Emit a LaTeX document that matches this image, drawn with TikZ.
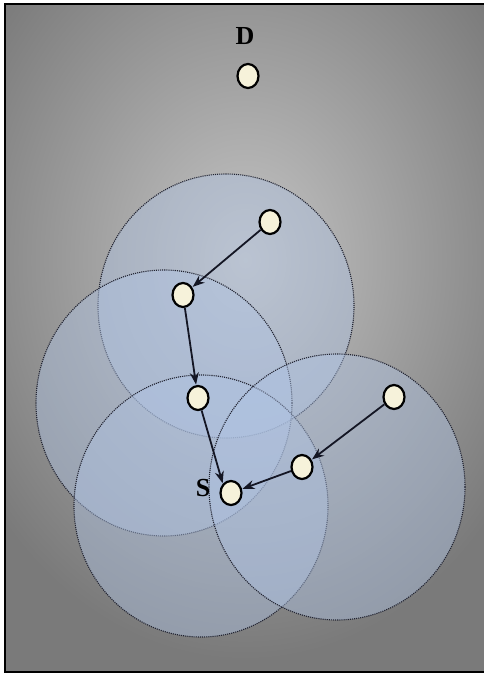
\documentclass[tikz,border=0pt]{standalone}
\usepackage{fontspec}
\setmainfont{Liberation Serif}
\usetikzlibrary{shapes.geometric,arrows.meta}
\definecolor{bgdark}{RGB}{122,122,122}
\definecolor{bglight}{RGB}{196,196,196}
\definecolor{rangefill}{RGB}{176,196,228}
\definecolor{rangeline}{RGB}{34,36,50}
\definecolor{nodefill}{RGB}{246,242,218}
\definecolor{arrowcol}{RGB}{20,22,36}
\tikzset{
  radiorange/.style={fill=rangefill, fill opacity=0.45, draw=rangeline, densely dotted, line width=1.1pt},
  sensor/.style={ellipse, draw=black, line width=2.2pt, fill=nodefill, minimum width=21pt, minimum height=24pt, inner sep=0pt},
  hop/.style={draw=arrowcol, line width=1.8pt, -{Stealth[length=12pt,width=9pt]}, shorten >=0.5pt},
  lbl/.style={font=\bfseries\fontsize{26}{26}\selectfont, text=black, inner sep=0pt}
}
\begin{document}
\begin{tikzpicture}[x=1pt,y=-1pt]
\useasboundingbox (0,0) rectangle (484,675);
\fill[white] (0,0) rectangle (484,675);
% background panel
\fill[bgdark] (5,4) rectangle (484,672);
\begin{scope}
  \clip (5,4) rectangle (484,672);
  \shade[inner color=bglight, outer color=bgdark] (245,260) ellipse [x radius=320pt, y radius=400pt];
\end{scope}
\draw[black, line width=1.6pt] (484,4) -- (5,4) -- (5,672) -- (484,672);
% transmission ranges
\path[radiorange] (226,306) ellipse [x radius=128pt, y radius=132pt];
\path[radiorange] (164,403) ellipse [x radius=128pt, y radius=133pt];
\path[radiorange] (201,506) ellipse [x radius=127pt, y radius=131pt];
\path[radiorange] (337,487) ellipse [x radius=128pt, y radius=133pt];
% sensors
\node[sensor] (D) at (248,76) {};
\node[sensor] (n1) at (270,222) {};
\node[sensor] (n2) at (183,295) {};
\node[sensor] (n3) at (198,398) {};
\node[sensor] (n4) at (394,397) {};
\node[sensor] (n5) at (302,467) {};
\node[sensor] (S) at (231,493) {};
% labels
\node[lbl] (lD) at (245,36) {D};
\node[lbl] (lS) at (203,488) {S};
% hops
\draw[hop] (n1) -- (n2);
\draw[hop] (n2) -- (n3);
\draw[hop] (n3) -- (S.north west);
\draw[hop] (n4) -- (n5);
\draw[hop] (n5) -- (S);
\end{tikzpicture}
\end{document}
